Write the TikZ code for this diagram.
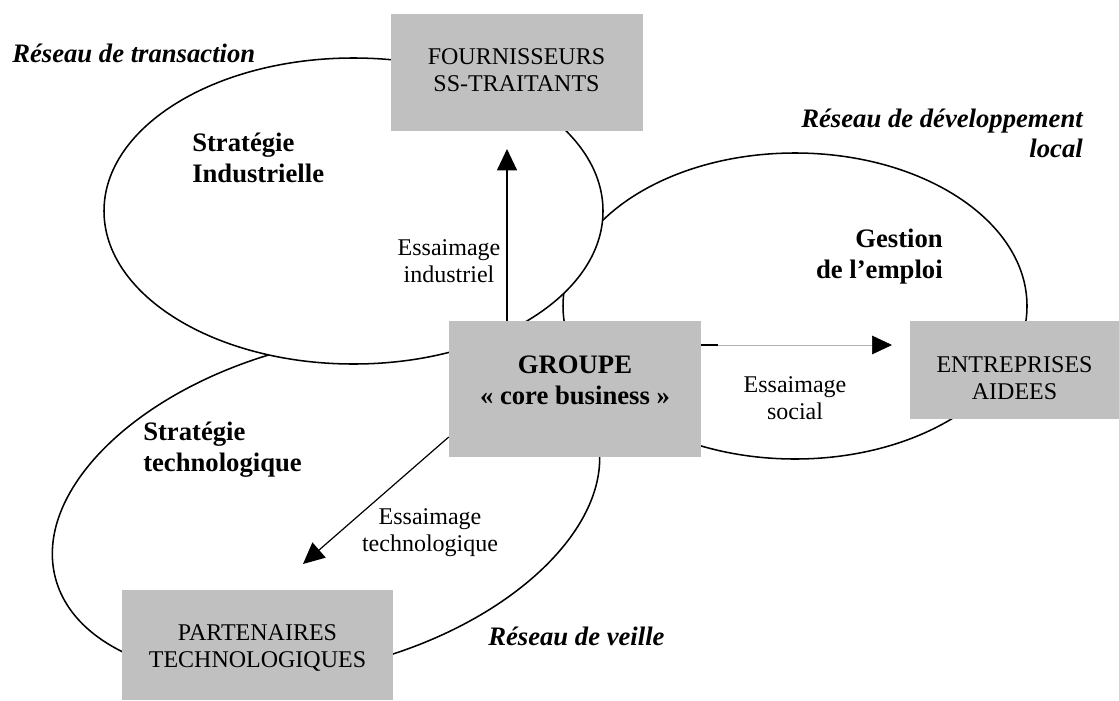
\documentclass[tikz,border=0pt]{standalone}
\usepackage{fontspec}
\setmainfont{Liberation Serif}
\usetikzlibrary{arrows.meta}
\definecolor{boxgray}{HTML}{C0C0C0}
\begin{document}
\begin{tikzpicture}[x=0.75pt,y=-0.75pt,
  ell/.style={draw=black,line width=1.15pt,fill=white},
  graybox/.style={fill=boxgray,draw=none,inner sep=0pt},
  reg/.style={font=\fontsize{18}{20.25}\selectfont,inner sep=0pt,align=center},
  boldtxt/.style={font=\fontsize{20}{22.8}\selectfont\bfseries,inner sep=0pt},
  bitxt/.style={font=\fontsize{20}{22.5}\selectfont\bfseries\itshape,inner sep=0pt},
  arr/.style={line width=0.9pt,-{Triangle[length=16pt,width=15pt]}},
]
\useasboundingbox (0,0) rectangle (1119,700);
% ellipses
\draw[ell,rotate around={15:(326,506)}] (326,506) ellipse [x radius=280,y radius=161];
\draw[ell] (795,306) ellipse [x radius=232,y radius=153];
\draw[ell] (353.5,211) ellipse [x radius=249.5,y radius=153];
% boxes
\node[graybox,minimum width=189pt,minimum height=87.75pt] (fourn) at (517,72.5) {};
\node[graybox,minimum width=189pt,minimum height=102pt] (groupe) at (575,389) {};
\node[graybox,minimum width=156.75pt,minimum height=73.5pt] (entre) at (1014.5,370) {};
\node[graybox,minimum width=203.25pt,minimum height=82.5pt] (part) at (257.5,645) {};
% box labels (anchor = baseline of last line)
\node[reg,anchor=base] (fournT) at (516.5,91) {FOURNISSEURS\\SS-TRAITANTS};
\node[boldtxt,align=center,anchor=base] (groupeT) at (575,404) {GROUPE\\« core business »};
\node[reg,anchor=base] (entreT) at (1014.5,399) {ENTREPRISES\\AIDEES};
\node[reg,anchor=base] (partT) at (257.5,667) {PARTENAIRES\\TECHNOLOGIQUES};
% other labels
\node[bitxt,anchor=base west] (resT) at (12,62) {Réseau de transaction};
\node[bitxt,align=right,anchor=base east] (resD) at (1083,157) {Réseau de développement\\local};
\node[bitxt,anchor=base west] (resV) at (488,645) {Réseau de veille};
\node[boldtxt,align=left,anchor=base west] (stratI) at (192,182) {Stratégie\\Industrielle};
\node[boldtxt,align=right,anchor=base east] (gestion) at (943,278) {Gestion\\de l’emploi};
\node[boldtxt,align=left,anchor=base west] (stratT) at (143,471) {Stratégie\\technologique};
\node[reg,anchor=base] (essI) at (449,282) {Essaimage\\industriel};
\node[reg,anchor=base] (essS) at (795,419) {Essaimage\\social};
\node[reg,anchor=base] (essT) at (430,551) {Essaimage\\technologique};
% connectors
\coordinate (tipF) at (507,149);
\draw[arr] (groupe.north -| tipF) -- (tipF);
\coordinate (tipE) at (892,345);
\draw[line width=0.5pt,draw=gray!60,-{Triangle[length=15pt,width=14pt,color=black]}] (groupe.east |- tipE) -- (tipE);
\draw[line width=1.1pt] (groupe.east |- tipE) -- ++(17,0);
\coordinate (tipT) at (303,564);
\draw[arr] ([yshift=-36pt]groupe.west) -- (tipT);
\end{tikzpicture}
\end{document}
